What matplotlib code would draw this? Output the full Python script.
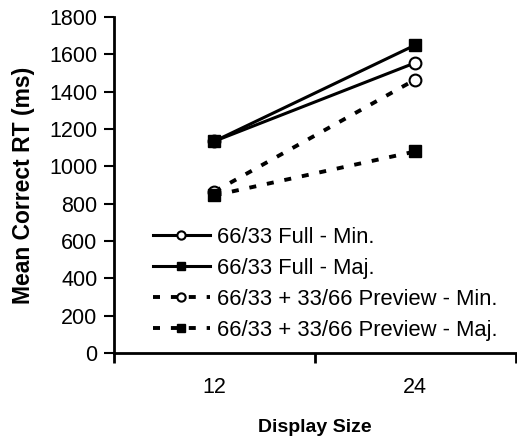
import matplotlib
matplotlib.use("Agg")
import matplotlib.pyplot as plt

plt.rcParams['font.family'] = ['Liberation Sans', 'DejaVu Sans']

sizes = ["12", "24"]
full_min = [1135, 1555]
full_maj = [1135, 1650]
prev_min = [865, 1465]
prev_maj = [845, 1080]
labels = ["66/33 Full - Min.", "66/33 Full - Maj.",
          "66/33 + 33/66 Preview - Min.", "66/33 + 33/66 Preview - Maj."]
yticks = [0, 200, 400, 600, 800, 1000, 1200, 1400, 1600, 1800]

fig = plt.figure(figsize=(5.17, 4.37), dpi=100)
ax = fig.add_axes([0.2205, 0.192, 0.777, 0.769])

x = [1, 2]
dash = (0, (1.8, 2.8))
ax.plot(x, full_min, color="black", lw=2.2, marker="o", ms=8.5, mfc="white", mew=1.5, label=labels[0], zorder=3)
ax.plot(x, full_maj, color="black", lw=2.2, marker="s", ms=8.5, mfc="black", label=labels[1], zorder=3)
ax.plot(x, prev_min, color="black", lw=2.8, ls=dash, marker="o", ms=8.5, mfc="white", mew=1.5, label=labels[2], zorder=3)
ax.plot(x, prev_maj, color="black", lw=2.8, ls=dash, marker="s", ms=8.5, mfc="black", label=labels[3], zorder=3)

ax.set_xlim(0.5, 2.5)
ax.set_ylim(0, 1800)
ax.set_yticks(yticks)
ax.set_xticks([0.5, 1.5, 2.5])
ax.set_xticklabels([])
ax.set_xticks(x, minor=True)
ax.set_xticklabels(sizes, minor=True)
ax.tick_params(axis="x", which="minor", length=0, labelsize=15.5, pad=17)
ax.tick_params(axis="x", which="major", length=7, width=2, direction="out")
ax.tick_params(axis="y", length=7, width=1.5, direction="out", labelsize=15.5, pad=5)

for s in ["top", "right"]:
    ax.spines[s].set_visible(False)
ax.spines["left"].set_linewidth(2)
ax.spines["bottom"].set_linewidth(2)

ax.set_ylabel("Mean Correct RT (ms)", fontsize=16.5, fontweight="bold", labelpad=10)
ax.set_xlabel("Display Size", fontsize=14, fontweight="bold", labelpad=15)

leg = ax.legend(loc="lower left", bbox_to_anchor=(0.097, 0.037), frameon=False,
                fontsize=15.8, handlelength=2.6, handletextpad=0.3,
                labelspacing=0.45, markerscale=0.7, borderaxespad=0,
                borderpad=0)

fig.savefig("out.png", dpi=100)
